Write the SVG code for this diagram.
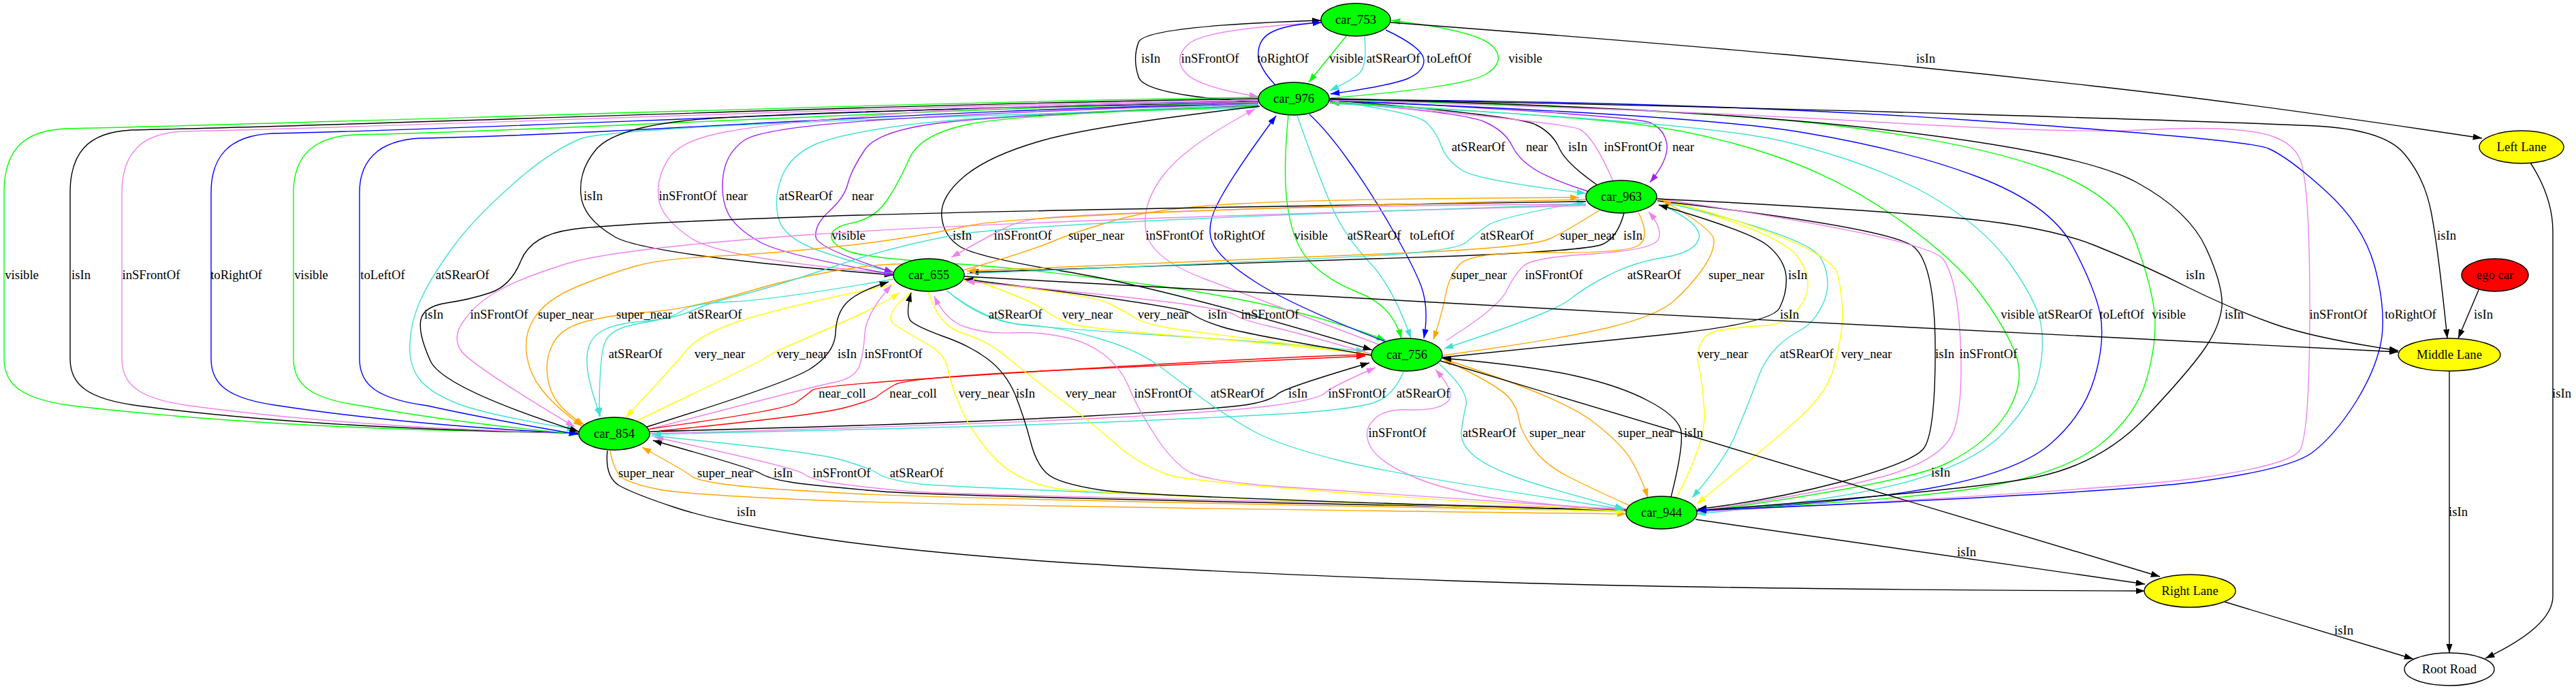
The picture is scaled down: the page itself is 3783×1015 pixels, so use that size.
<svg xmlns="http://www.w3.org/2000/svg" width="3783" height="1015" viewBox="0 0 3783 1015">
<style>
.e path{fill:none;stroke-width:1.4}
.k{stroke:#000;marker-end:url(#ak)}
.r{stroke:#ff0000;marker-end:url(#ar)}
.o{stroke:#ffa500;marker-end:url(#ao)}
.y{stroke:#ffff00;marker-end:url(#ay)}
.p{stroke:#a020f0;marker-end:url(#ap)}
.g{stroke:#00ff00;marker-end:url(#ag)}
.v{stroke:#ee82ee;marker-end:url(#av)}
.t{stroke:#40e0d0;marker-end:url(#at)}
.b{stroke:#0000ff;marker-end:url(#ab)}
text{font-family:"Liberation Serif","Times New Roman",serif;font-size:18.67px;text-anchor:middle;fill:#000}
ellipse{stroke:#000;stroke-width:1.4}
.car{fill:#00ff00}.lane{fill:#ffff00}
</style>
<defs>
<marker id="ak" viewBox="0 0 10 10" refX="10" refY="5" markerUnits="userSpaceOnUse" markerWidth="13.3" markerHeight="9.3" orient="auto" preserveAspectRatio="none"><path d="M0,0L10,5L0,10z" fill="#000"/></marker>
<marker id="ar" viewBox="0 0 10 10" refX="10" refY="5" markerUnits="userSpaceOnUse" markerWidth="13.3" markerHeight="9.3" orient="auto" preserveAspectRatio="none"><path d="M0,0L10,5L0,10z" fill="#ff0000"/></marker>
<marker id="ao" viewBox="0 0 10 10" refX="10" refY="5" markerUnits="userSpaceOnUse" markerWidth="13.3" markerHeight="9.3" orient="auto" preserveAspectRatio="none"><path d="M0,0L10,5L0,10z" fill="#ffa500"/></marker>
<marker id="ay" viewBox="0 0 10 10" refX="10" refY="5" markerUnits="userSpaceOnUse" markerWidth="13.3" markerHeight="9.3" orient="auto" preserveAspectRatio="none"><path d="M0,0L10,5L0,10z" fill="#ffff00"/></marker>
<marker id="ap" viewBox="0 0 10 10" refX="10" refY="5" markerUnits="userSpaceOnUse" markerWidth="13.3" markerHeight="9.3" orient="auto" preserveAspectRatio="none"><path d="M0,0L10,5L0,10z" fill="#a020f0"/></marker>
<marker id="ag" viewBox="0 0 10 10" refX="10" refY="5" markerUnits="userSpaceOnUse" markerWidth="13.3" markerHeight="9.3" orient="auto" preserveAspectRatio="none"><path d="M0,0L10,5L0,10z" fill="#00ff00"/></marker>
<marker id="av" viewBox="0 0 10 10" refX="10" refY="5" markerUnits="userSpaceOnUse" markerWidth="13.3" markerHeight="9.3" orient="auto" preserveAspectRatio="none"><path d="M0,0L10,5L0,10z" fill="#ee82ee"/></marker>
<marker id="at" viewBox="0 0 10 10" refX="10" refY="5" markerUnits="userSpaceOnUse" markerWidth="13.3" markerHeight="9.3" orient="auto" preserveAspectRatio="none"><path d="M0,0L10,5L0,10z" fill="#40e0d0"/></marker>
<marker id="ab" viewBox="0 0 10 10" refX="10" refY="5" markerUnits="userSpaceOnUse" markerWidth="13.3" markerHeight="9.3" orient="auto" preserveAspectRatio="none"><path d="M0,0L10,5L0,10z" fill="#0000ff"/></marker>
</defs>
<rect width="3783" height="1015" fill="#fff"/>
<g id="connectors" class="e">
<!-- car_753 / car_976 -->
<path class="k" d="M1848,150 Q1680,140 1672,113 Q1663,86 1672,62 Q1680,38 1940,30"/>
<path class="v" d="M1941,33 Q1767,43 1745,65 Q1722,86 1741,107 Q1760,128 1848,142"/>
<path class="b" d="M1872,124 Q1845,95 1848,75 Q1850,55 1870,46 Q1890,36 1941,33"/>
<path class="g" d="M1977,53 Q1950,86 1922,121"/>
<path class="t" d="M2004,53 Q2008,95 1997,107 Q1985,118 1953,133"/>
<path class="b" d="M2035,44 Q2090,70 2091,88 Q2092,105 2066,116 Q2040,126 1954,138"/>
<path class="g" d="M1954,144 Q2150,128 2182,109 Q2213,90 2192,68 Q2170,45 2043,30"/>
<path class="k" d="M2042,33 Q2400,60 2621,80 Q2842,100 3071,126 Q3300,151 3645,203"/>
<!-- car_976 -> car_854 loops -->
<path class="g" d="M1848,143 C1400,148 406,183 96,189 C31,192 6,224 6,283 L6,527 C6,565 31,586 106,596 C400,630 700,634 849,636"/>
<path class="k" d="M1848,145 C1400,150 503,185 193,191 C128,194 103,226 103,283 L103,527 C103,565 128,586 203,596 C450,628 720,634 849,636"/>
<path class="v" d="M1848,147 C1400,152 579,187 269,193 C204,196 179,228 179,283 L179,527 C179,565 204,586 279,596 C500,626 730,633 849,637"/>
<path class="b" d="M1848,149 C1400,154 710,190 400,196 C335,199 310,231 310,283 L310,527 C310,565 335,586 410,596 C580,622 750,632 849,637"/>
<path class="g" d="M1848,151 C1400,156 831,192 521,198 C456,201 431,233 431,283 L431,527 C431,565 456,586 531,596 C650,618 770,630 849,638"/>
<path class="b" d="M1848,153 C1400,158 928,197 618,203 C553,206 528,238 528,283 L528,527 C528,565 553,586 628,596 C700,612 790,628 849,638"/>
<path class="t" d="M1848,158 Q900,183 852,204 Q804,224 747,276 Q689,328 660,370 Q631,411 617,442 Q603,473 602,505 Q600,536 616,557 Q631,577 675,594 Q718,610 846,631"/>
<!-- car_976 -> car_655 -->
<path class="k" d="M1848,150 Q1100,165 1000,178 Q900,190 875,220 Q850,250 853,285 Q855,320 903,348 Q950,375 1312,404"/>
<path class="v" d="M1848,150 Q1500,153 1320,167 Q1140,180 1070,193 Q1000,205 982,233 Q964,260 967,290 Q970,320 1015,350 Q1060,380 1312,402"/>
<path class="p" d="M1848,152 Q1500,163 1310,175 Q1120,187 1093,206 Q1066,225 1062,258 Q1058,290 1069,313 Q1080,335 1115,355 Q1150,375 1312,403"/>
<path class="t" d="M1848,153 Q1430,170 1328,184 Q1225,198 1193,214 Q1160,230 1148,260 Q1136,290 1143,320 Q1150,350 1205,369 Q1260,388 1313,400"/>
<path class="p" d="M1848,155 Q1500,168 1395,179 Q1290,190 1270,220 Q1250,250 1245,270 Q1240,290 1218,310 Q1196,330 1198,348 Q1200,365 1312,400"/>
<path class="g" d="M1848,156 Q1500,167 1425,182 Q1350,197 1335,234 Q1319,270 1302,295 Q1285,320 1254,327 Q1222,333 1221,346 Q1220,358 1243,368 Q1265,378 1383,386 Q1500,393 1700,420 Q1900,447 2035,500"/>
<!-- car_976 <-> car_963 -->
<path class="t" d="M1952,148 Q2080,165 2095,180 Q2110,195 2117,215 Q2124,235 2147,250 Q2170,265 2329,284"/>
<path class="p" d="M2332,281 Q2290,268 2261,253 Q2232,237 2221,215 Q2210,192 2180,179 Q2150,165 1953,150"/>
<path class="k" d="M2346,272 Q2300,240 2290,218 Q2280,195 2255,183 Q2230,170 1953,147"/>
<path class="v" d="M2369,266 Q2340,200 2320,190 Q2300,180 1953,149"/>
<path class="p" d="M1952,146 Q2400,170 2423,180 Q2445,190 2448,213 Q2450,235 2423,268"/>
<!-- car_976 <-> car_756 -->
<path class="b" d="M2035,502 Q1900,450 1845,415 Q1790,380 1780,355 Q1770,330 1793,290 Q1815,250 1874,170"/>
<path class="g" d="M1892,169 Q1883,260 1892,310 Q1900,360 1925,386 Q1950,412 1998,431 Q2045,450 2058,497"/>
<path class="t" d="M1905,170 Q1937,260 1956,304 Q1975,347 2010,384 Q2045,420 2072,497"/>
<path class="b" d="M1923,168 Q1950,193 1981,237 Q2012,280 2043,334 Q2074,387 2087,420 Q2099,453 2091,497"/>
<path class="k" d="M1850,156 Q1600,185 1525,208 Q1450,230 1415,260 Q1380,290 1383,318 Q1385,345 1408,361 Q1430,377 1565,399 Q1700,420 2015,514"/>
<path class="v" d="M2025,506 Q1850,440 1770,410 Q1690,380 1683,340 Q1676,300 1708,258 Q1740,215 1843,160"/>
<!-- car_963 <-> car_655 -->
<path class="v" d="M2329,300 Q1950,302 1775,309 Q1600,315 1550,319 Q1500,322 1478,334 Q1455,345 1397,378"/>
<path class="o" d="M1414,397 Q1500,373 1540,357 Q1580,340 1640,323 Q1700,305 1825,299 Q1950,292 2319,290"/>
<path class="k" d="M2385,313 Q2375,350 2353,359 Q2330,368 2140,376 Q1950,383 1424,400"/>
<path class="o" d="M2350,308 Q2300,340 2275,351 Q2250,362 2100,370 Q1950,377 1420,398"/>
<path class="t" d="M1420,402 Q1950,380 2045,374 Q2140,367 2153,356 Q2166,345 2183,332 Q2200,319 2329,296"/>
<!-- car_963 / car_655 -> car_854 -->
<path class="k" d="M2329,296 Q1500,308 1200,318 Q900,328 840,337 Q780,345 765,383 Q750,420 720,430 Q690,440 656,445 Q622,450 618,470 Q614,490 632,530 Q650,570 850,634"/>
<path class="v" d="M2329,302 Q1500,323 1200,344 Q900,365 830,388 Q760,410 730,428 Q700,445 682,470 Q663,494 677,515 Q690,535 844,627"/>
<path class="o" d="M2329,293 Q1500,313 1420,332 Q1340,350 1240,361 Q1140,372 1057,376 Q974,380 937,390 Q900,400 850,420 Q800,440 783,470 Q765,500 778,540 Q790,580 855,626"/>
<path class="o" d="M1414,398 Q1347,381 1265,392 Q1182,403 1099,428 Q1016,453 958,458 Q900,462 861,472 Q821,482 810,509 Q798,535 807,567 Q815,598 858,624"/>
<path class="t" d="M2329,300 Q1500,327 1403,345 Q1306,363 1223,392 Q1140,420 1090,433 Q1040,445 1015,457 Q990,468 945,472 Q900,475 881,488 Q862,500 862,528 Q861,556 882,612"/>
<!-- car_655 <-> car_756 -->
<path class="t" d="M1392,428 Q1440,470 1499,477 Q1557,483 1729,494 Q1900,505 2005,516"/>
<path class="y" d="M2014,521 Q1900,507 1751,495 Q1602,483 1578,477 Q1553,470 1533,455 Q1513,440 1421,408"/>
<path class="y" d="M1414,412 Q1602,433 1627,445 Q1651,457 1667,467 Q1682,477 1731,484 Q1780,490 2014,521"/>
<path class="k" d="M2014,522 Q1825,490 1794,480 Q1762,470 1749,460 Q1736,450 1416,410"/>
<path class="v" d="M2014,520 Q1900,487 1863,479 Q1825,470 1816,464 Q1807,457 1754,449 Q1700,440 1418,413"/>
<!-- car_655 <-> car_854 -->
<path class="t" d="M1312,410 Q1140,440 1078,443 Q1016,445 1001,457 Q985,468 940,475 Q895,482 888,504 Q880,525 880,612"/>
<path class="y" d="M1310,418 Q1140,453 1082,473 Q1024,493 1006,517 Q987,540 919,613"/>
<path class="y" d="M935,618 Q1099,540 1120,528 Q1140,515 1170,503 Q1200,490 1245,470 Q1290,450 1321,430"/>
<path class="k" d="M950,627 Q1150,565 1188,543 Q1225,520 1227,490 Q1228,460 1244,444 Q1260,428 1305,414"/>
<path class="v" d="M952,631 Q1200,566 1228,561 Q1255,555 1262,538 Q1268,520 1270,490 Q1272,460 1309,419"/>
<!-- car_854 <-> car_756 -->
<path class="r" d="M954,630 Q1150,603 1168,592 Q1185,580 1193,573 Q1200,565 1550,544 Q1900,523 2005,521"/>
<path class="r" d="M968,633 Q1200,610 1240,599 Q1280,588 1287,583 Q1294,577 1314,565 Q1334,553 1617,541 Q1900,528 2005,523"/>
<path class="k" d="M954,634 Q1400,622 1600,611 Q1800,600 1834,594 Q1867,588 1876,579 Q1885,570 2011,533"/>
<path class="v" d="M954,637 Q1400,625 1600,615 Q1800,605 1867,596 Q1934,587 1945,578 Q1955,568 2020,540"/>
<path class="t" d="M2061,546 Q2048,578 2024,589 Q2000,600 1900,607 Q1800,613 1600,621 Q1400,628 958,638"/>
<!-- car_756 <-> car_944 -->
<path class="v" d="M2389,750 Q2246,740 2179,729 Q2112,717 2068,697 Q2023,677 2012,655 Q2001,633 2017,617 Q2032,600 2072,602 Q2112,603 2126,590 Q2139,577 2108,543"/>
<path class="t" d="M2112,533 Q2157,573 2153,595 Q2148,617 2146,634 Q2144,650 2162,667 Q2179,683 2224,700 Q2269,717 2385,747"/>
<path class="o" d="M2394,743 Q2336,717 2303,700 Q2269,683 2251,658 Q2233,633 2231,617 Q2229,600 2216,584 Q2202,567 2119,527"/>
<path class="o" d="M2119,527 Q2291,583 2336,617 Q2380,650 2395,675 Q2410,700 2420,731"/>
<path class="k" d="M2454,730 Q2474,650 2468,630 Q2461,610 2421,589 Q2380,567 2313,552 Q2246,537 2118,526"/>
<!-- car_854 <-> car_944 -->
<path class="o" d="M896,662 Q901,690 912,700 Q923,710 968,719 Q1012,727 1206,735 Q1400,743 2388,755"/>
<path class="o" d="M2388,751 Q1400,733 1251,725 Q1102,717 1062,711 Q1021,705 1015,699 Q1008,693 943,657"/>
<path class="k" d="M2388,749 Q1400,730 1296,722 Q1191,713 1160,708 Q1129,703 1116,695 Q1102,687 959,647"/>
<path class="v" d="M2388,747 Q1400,727 1340,722 Q1280,717 1236,711 Q1191,705 1180,696 Q1169,687 961,642"/>
<path class="t" d="M956,640 Q1191,663 1234,675 Q1276,687 1290,696 Q1303,705 1352,711 Q1400,717 2385,752"/>
<!-- car_655 <-> car_944 -->
<path class="y" d="M1340,428 Q1294,463 1314,477 Q1334,490 1361,505 Q1388,520 1392,542 Q1396,563 1410,597 Q1423,630 1457,669 Q1491,707 1549,717 Q1606,727 2385,752"/>
<path class="k" d="M2385,750 Q1683,730 1618,720 Q1552,710 1537,695 Q1521,680 1513,647 Q1504,613 1491,580 Q1477,547 1450,527 Q1423,507 1385,494 Q1347,480 1338,472 Q1329,463 1338,430"/>
<path class="y" d="M1363,428 Q1379,480 1415,490 Q1450,500 1482,527 Q1513,553 1558,587 Q1602,620 1636,650 Q1669,680 1714,697 Q1759,713 2385,751"/>
<path class="v" d="M2385,749 Q1989,723 1882,715 Q1774,707 1748,694 Q1722,680 1696,639 Q1669,597 1658,569 Q1646,540 1620,520 Q1593,500 1557,494 Q1521,487 1483,489 Q1445,490 1417,480 Q1388,470 1372,435"/>
<path class="t" d="M1390,427 Q1450,473 1504,477 Q1557,480 1613,497 Q1669,513 1703,538 Q1736,563 1768,587 Q1800,610 1840,633 Q1880,655 1973,678 Q2065,700 2385,748"/>
<!-- car_963 <-> car_944 -->
<path class="y" d="M2462,731 Q2505,650 2503,605 Q2500,560 2495,540 Q2490,520 2498,504 Q2505,487 2533,484 Q2560,480 2595,478 Q2630,475 2648,443 Q2666,410 2638,375 Q2610,340 2436,293"/>
<path class="t" d="M2440,296 Q2657,347 2674,379 Q2691,410 2679,442 Q2666,473 2644,485 Q2621,497 2606,514 Q2590,530 2578,565 Q2565,600 2548,640 Q2530,680 2485,731"/>
<path class="y" d="M2440,292 Q2690,360 2699,404 Q2708,447 2705,480 Q2701,513 2691,547 Q2680,580 2641,615 Q2602,650 2492,740"/>
<path class="k" d="M2434,295 Q2780,335 2811,363 Q2842,390 2842,515 Q2842,640 2824,660 Q2806,680 2703,708 Q2600,735 2493,748"/>
<path class="v" d="M2436,292 Q2832,350 2854,381 Q2875,412 2879,502 Q2883,591 2870,631 Q2857,671 2779,696 Q2700,720 2493,751"/>
<!-- car_963 <-> car_756 -->
<path class="o" d="M2406,312 Q2425,350 2405,361 Q2385,372 2273,371 Q2160,370 2144,388 Q2128,405 2123,433 Q2118,460 2105,499"/>
<path class="v" d="M2124,500 Q2199,453 2212,428 Q2224,403 2237,391 Q2250,378 2339,373 Q2427,367 2435,352 Q2443,337 2421,311"/>
<path class="t" d="M2445,303 Q2500,330 2495,350 Q2490,370 2445,378 Q2400,385 2365,403 Q2330,420 2305,440 Q2280,460 2121,512"/>
<path class="o" d="M2119,522 Q2300,497 2367,480 Q2434,463 2457,443 Q2480,423 2499,397 Q2518,370 2517,353 Q2515,335 2441,294"/>
<path class="k" d="M2118,525 Q2300,507 2450,491 Q2600,475 2613,453 Q2625,430 2623,405 Q2620,380 2595,360 Q2570,340 2436,301"/>
<!-- car_976 <-> car_944 -->
<path class="g" d="M2492,752 Q2800,710 2860,680 Q2920,650 2948,605 Q2975,560 2960,520 Q2944,479 2907,430 Q2870,380 2785,320 Q2700,260 2600,227 Q2500,194 2400,182 Q2300,170 1954,150"/>
<path class="t" d="M1952,152 Q2500,178 2625,209 Q2750,240 2830,285 Q2910,330 2950,385 Q2990,440 2997,475 Q3003,510 2994,550 Q2985,590 2943,635 Q2900,680 2800,708 Q2700,735 2492,755"/>
<path class="b" d="M1952,148 Q2500,169 2650,195 Q2800,220 2905,260 Q3010,300 3043,360 Q3075,420 3084,460 Q3092,500 3076,555 Q3060,610 3010,653 Q2960,695 2830,718 Q2700,740 2492,750"/>
<path class="g" d="M2492,750 Q2800,735 2915,715 Q3030,695 3084,653 Q3138,610 3153,555 Q3168,500 3164,460 Q3160,420 3136,354 Q3112,288 3006,249 Q2900,210 2700,185 Q2500,160 1954,146"/>
<path class="k" d="M1952,145 Q2500,158 2780,192 Q3060,225 3138,268 Q3215,310 3240,365 Q3265,420 3263,450 Q3260,480 3237,513 Q3214,546 3151,613 Q3087,680 2994,700 Q2900,720 2492,750"/>
<path class="v" d="M2493,752 Q3100,720 3231,702 Q3362,683 3377,662 Q3392,640 3392,450 Q3392,260 3376,230 Q3360,200 3305,193 Q3250,185 3143,191 Q3036,196 2768,180 Q2500,163 1953,147"/>
<path class="b" d="M1952,146 Q2500,149 2900,177 Q3300,205 3331,218 Q3361,231 3416,281 Q3470,330 3487,390 Q3503,449 3498,494 Q3492,538 3460,590 Q3427,642 3394,666 Q3361,689 3231,707 Q3100,725 2493,750"/>
<!-- lanes -->
<path class="k" d="M2433,292 Q2700,305 2850,318 Q3000,330 3075,360 Q3150,390 3215,423 Q3280,455 3340,476 Q3400,497 3522,515"/>
<path class="k" d="M1952,145 Q2500,156 2900,168 Q3300,180 3400,185 Q3500,190 3530,225 Q3560,260 3570,310 Q3580,360 3594,497"/>
<path class="k" d="M1416,406 C2000,438 3000,495 3522,517"/>
<path class="k" d="M3640,426 L3610,497"/>
<path class="k" d="M3597,545 L3597,959"/>
<path class="k" d="M3716,239 Q3749,290 3749,340 L3749,876 Q3749,920 3650,967"/>
<path class="k" d="M3267,884 L3544,968"/>
<path class="k" d="M2490,763 L3150,858"/>
<path class="k" d="M2115,530 L3172,847"/>
<path class="k" d="M892,662 Q888,700 909,713 Q930,725 990,745 Q1050,765 1175,786 Q1300,807 1530,824 Q1760,840 2130,853 Q2500,866 3150,868"/>
</g>
<g id="edge-labels">
<text x="1690" y="92">isIn</text><text x="1777" y="92">inSFrontOf</text><text x="1884" y="92">toRightOf</text><text x="1977" y="92">visible</text><text x="2046" y="92">atSRearOf</text><text x="2128" y="92">toLeftOf</text><text x="2240" y="92">visible</text><text x="2828" y="92">isIn</text>
<text x="2171" y="222">atSRearOf</text><text x="2257" y="222">near</text><text x="2317" y="222">isIn</text><text x="2398" y="222">inSFrontOf</text><text x="2472" y="222">near</text>
<text x="871" y="294">isIn</text><text x="1010" y="294">inSFrontOf</text><text x="1082" y="294">near</text><text x="1183" y="294">atSRearOf</text><text x="1267" y="294">near</text>
<text x="1246" y="352">visible</text><text x="1413" y="352">isIn</text><text x="1502" y="352">inSFrontOf</text><text x="1610" y="352">super_near</text><text x="1725" y="352">inSFrontOf</text><text x="1820" y="352">toRightOf</text><text x="1925" y="352">visible</text><text x="2018" y="352">atSRearOf</text><text x="2103" y="352">toLeftOf</text><text x="2213" y="352">atSRearOf</text><text x="2332" y="352">super_near</text><text x="2398" y="352">isIn</text><text x="3593" y="352">isIn</text>
<text x="32" y="410">visible</text><text x="119" y="410">isIn</text><text x="222" y="410">inSFrontOf</text><text x="347" y="410">toRightOf</text><text x="457" y="410">visible</text><text x="562" y="410">toLeftOf</text><text x="679" y="410">atSRearOf</text><text x="2172" y="410">super_near</text><text x="2282" y="410">inSFrontOf</text><text x="2429" y="410">atSRearOf</text><text x="2550" y="410">super_near</text><text x="2640" y="410">isIn</text><text x="3224" y="410">isIn</text>
<text x="637" y="468">isIn</text><text x="733" y="468">inSFrontOf</text><text x="831" y="468">super_near</text><text x="946" y="468">super_near</text><text x="1050" y="468">atSRearOf</text><text x="1491" y="468">atSRearOf</text><text x="1597" y="468">very_near</text><text x="1708" y="468">very_near</text><text x="1788" y="468">isIn</text><text x="1865" y="468">inSFrontOf</text><text x="2628" y="468">isIn</text><text x="2963" y="468">visible</text><text x="3033" y="468">atSRearOf</text><text x="3116" y="468">toLeftOf</text><text x="3185" y="468">visible</text><text x="3281" y="468">isIn</text><text x="3434" y="468">inSFrontOf</text><text x="3540" y="468">toRightOf</text><text x="3647" y="468">isIn</text>
<text x="933" y="526">atSRearOf</text><text x="1057" y="526">very_near</text><text x="1178" y="526">very_near</text><text x="1244" y="526">isIn</text><text x="1312" y="526">inSFrontOf</text><text x="2530" y="526">very_near</text><text x="2653" y="526">atSRearOf</text><text x="2741" y="526">very_near</text><text x="2856" y="526">isIn</text><text x="2920" y="526">inSFrontOf</text>
<text x="1237" y="584">near_coll</text><text x="1341" y="584">near_coll</text><text x="1445" y="584">very_near</text><text x="1506" y="584">isIn</text><text x="1602" y="584">very_near</text><text x="1708" y="584">inSFrontOf</text><text x="1817" y="584">atSRearOf</text><text x="1906" y="584">isIn</text><text x="1993" y="584">inSFrontOf</text><text x="2090" y="584">atSRearOf</text><text x="3762" y="584">isIn</text>
<text x="2052" y="642">inSFrontOf</text><text x="2187" y="642">atSRearOf</text><text x="2287" y="642">super_near</text><text x="2417" y="642">super_near</text><text x="2487" y="642">isIn</text>
<text x="949" y="701">super_near</text><text x="1065" y="701">super_near</text><text x="1150" y="701">isIn</text><text x="1236" y="701">inSFrontOf</text><text x="1346" y="701">atSRearOf</text><text x="2850" y="700">isIn</text>
<text x="1096" y="758">isIn</text><text x="3610" y="758">isIn</text>
<text x="2888" y="817">isIn</text>
<text x="3442" y="932">isIn</text>
</g>
<g id="car_753"><ellipse class="car" cx="1991" cy="29" rx="51" ry="24"/><text x="1991" y="35">car_753</text></g>
<g id="car_976"><ellipse class="car" cx="1900" cy="145" rx="52" ry="24"/><text x="1900" y="151">car_976</text></g>
<g id="car_963"><ellipse class="car" cx="2381" cy="289" rx="52" ry="24"/><text x="2381" y="295">car_963</text></g>
<g id="car_655"><ellipse class="car" cx="1364" cy="404" rx="52" ry="24"/><text x="1364" y="410">car_655</text></g>
<g id="car_756"><ellipse class="car" cx="2066" cy="521" rx="52" ry="24"/><text x="2066" y="527">car_756</text></g>
<g id="car_854"><ellipse class="car" cx="902" cy="637" rx="52" ry="24"/><text x="902" y="643">car_854</text></g>
<g id="car_944"><ellipse class="car" cx="2440" cy="753" rx="52" ry="24"/><text x="2440" y="759">car_944</text></g>
<g id="left_lane"><ellipse class="lane" cx="3703" cy="216" rx="62" ry="24"/><text x="3703" y="222">Left Lane</text></g>
<g id="ego_car"><ellipse fill="#ff0000" cx="3664" cy="404" rx="49" ry="24"/><text x="3664" y="410">ego car</text></g>
<g id="middle_lane"><ellipse class="lane" cx="3597" cy="521" rx="75" ry="24"/><text x="3597" y="527">Middle Lane</text></g>
<g id="right_lane"><ellipse class="lane" cx="3216" cy="868" rx="67" ry="24"/><text x="3216" y="874">Right Lane</text></g>
<g id="root_road"><ellipse fill="#ffffff" cx="3597" cy="983" rx="66" ry="24"/><text x="3597" y="989">Root Road</text></g>
</svg>
